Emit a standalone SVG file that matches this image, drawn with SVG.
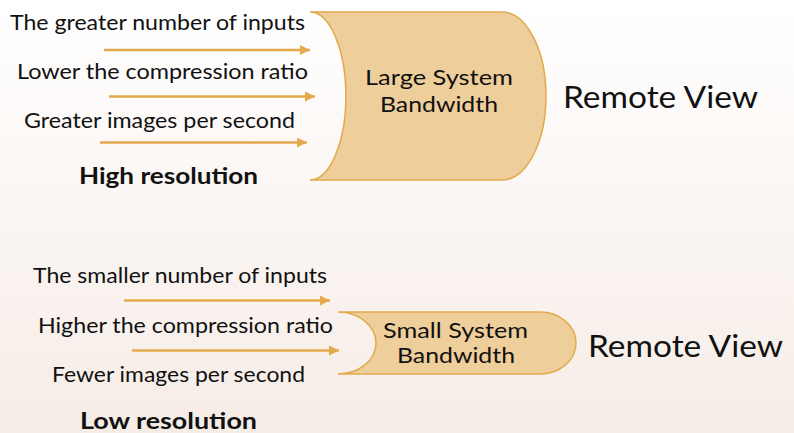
<svg xmlns="http://www.w3.org/2000/svg" width="794" height="433" viewBox="0 0 794 433">
<defs>
<linearGradient id="bg" x1="0" y1="0" x2="0" y2="1">
<stop offset="0" stop-color="#FFFFFF"/>
<stop offset="1" stop-color="#F6ECE6"/>
</linearGradient>
<marker id="ah" viewBox="0 0 10 10" refX="10" refY="5" markerWidth="4" markerHeight="4" markerUnits="strokeWidth" orient="auto">
<path d="M0,0 L10,5 L0,10 z" fill="#E3A94C"/>
</marker>
<style>
.t{font-family:Lato,"Open Sans","Liberation Sans",sans-serif;fill:#111;}
.lbl{font-size:21px;}
.b{font-size:22px;font-weight:bold;}
.node{fill:#EECE9A;stroke:#E2A94F;stroke-width:1.5;}
.rv{font-size:31px;}
.nt{font-size:22px;text-anchor:middle;}
.arr{stroke:#E3A94C;stroke-width:2.5;fill:none;marker-end:url(#ah);}
</style>
</defs>
<rect width="794" height="433" fill="url(#bg)"/>
<g id="connectors">
<line class="arr" x1="104" y1="50" x2="310" y2="50"/>
<line class="arr" x1="109" y1="96.5" x2="315" y2="96.5"/>
<line class="arr" x1="100" y1="142.5" x2="307" y2="142.5"/>
<line class="arr" x1="124" y1="300.5" x2="330" y2="300.5"/>
<line class="arr" x1="132" y1="350.5" x2="339" y2="350.5"/>
</g>
<g id="large-inputs">
<text class="t lbl" x="10" y="30" textLength="295" lengthAdjust="spacingAndGlyphs">The greater number of inputs</text>
<text class="t lbl" x="17" y="79" textLength="291" lengthAdjust="spacingAndGlyphs">Lower the compression ratio</text>
<text class="t lbl" x="24" y="128" textLength="271" lengthAdjust="spacingAndGlyphs">Greater images per second</text>
<text class="t b" x="79" y="184" textLength="179" lengthAdjust="spacingAndGlyphs">High resolution</text>
</g>
<g id="large-bandwidth">
<path class="node" d="M310,12 H502 A44,84 0 0 1 502,180 H310 A36,84 0 0 0 310,12 Z"/>
<text class="t nt" x="439" y="85" textLength="148" lengthAdjust="spacingAndGlyphs">Large System</text>
<text class="t nt" x="439" y="112" textLength="118" lengthAdjust="spacingAndGlyphs">Bandwidth</text>
</g>
<g id="large-remote">
<text class="t rv" x="563" y="108" textLength="195" lengthAdjust="spacingAndGlyphs">Remote View</text>
</g>
<g id="small-inputs">
<text class="t lbl" x="33" y="283" textLength="294" lengthAdjust="spacingAndGlyphs">The smaller number of inputs</text>
<text class="t lbl" x="38" y="333" textLength="295" lengthAdjust="spacingAndGlyphs">Higher the compression ratio</text>
<text class="t lbl" x="52" y="381.5" textLength="253" lengthAdjust="spacingAndGlyphs">Fewer images per second</text>
<text class="t b" x="80" y="429" textLength="177" lengthAdjust="spacingAndGlyphs">Low resolution</text>
</g>
<g id="small-bandwidth">
<path class="node" d="M338,312 H540 A36,31 0 0 1 540,374 H338 A38,31 0 0 0 338,312 Z"/>
<text class="t nt" x="455.5" y="338" textLength="145" lengthAdjust="spacingAndGlyphs">Small System</text>
<text class="t nt" x="456" y="363" textLength="118" lengthAdjust="spacingAndGlyphs">Bandwidth</text>
</g>
<g id="small-remote">
<text class="t rv" x="588" y="357" textLength="195" lengthAdjust="spacingAndGlyphs">Remote View</text>
</g>
</svg>
